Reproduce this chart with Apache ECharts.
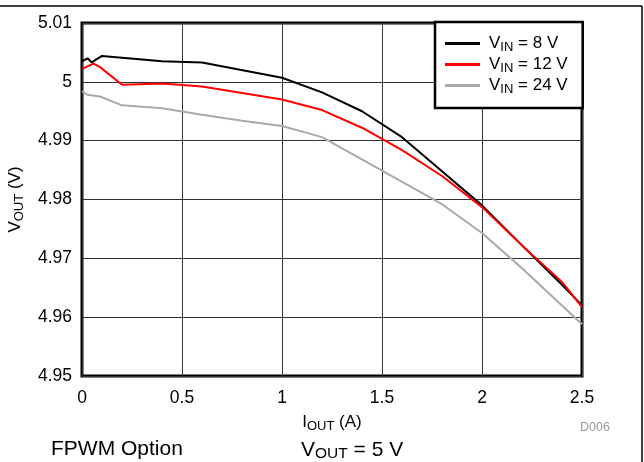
<!DOCTYPE html>
<html>
<head>
<meta charset="utf-8">
<script src="https://cdn.jsdelivr.net/npm/echarts@6/dist/echarts.min.js"></script>
<style>
html,body{margin:0;padding:0;background:#fff;}
#c{width:644px;height:462px;}
</style>
</head>
<body>
<div id="c"></div>
<script>
var xTicks = [0, 0.5, 1, 1.5, 2, 2.5];
var yTicks = [4.95, 4.96, 4.97, 4.98, 4.99, 5, 5.01];

var vin8X  = [0, 0.028, 0.048, 0.1, 0.4, 0.6, 1.0, 1.2, 1.4, 1.6, 1.8, 2.0, 2.2, 2.4, 2.5];
var vin8Y  = [5.0035, 5.0040, 5.0033, 5.0044, 5.0035, 5.0033, 5.0007, 4.9982, 4.9950, 4.9906, 4.9848, 4.9790, 4.9722, 4.9655, 4.9620];
var vin12X = [0, 0.057, 0.09, 0.2, 0.4, 0.6, 1.0, 1.2, 1.4, 1.6, 1.8, 2.0, 2.2, 2.4, 2.5];
var vin12Y = [5.0022, 5.0031, 5.0025, 4.9995, 4.9997, 4.9992, 4.9970, 4.9952, 4.9922, 4.9884, 4.9840, 4.9787, 4.9722, 4.9660, 4.9617];
var vin24X = [0, 0.027, 0.09, 0.2, 0.4, 0.6, 0.8, 1.0, 1.2, 1.8, 2.0, 2.2, 2.5];
var vin24Y = [4.9984, 4.9978, 4.9975, 4.9960, 4.9955, 4.9944, 4.9934, 4.9925, 4.9906, 4.9792, 4.9743, 4.9683, 4.9588];

function pairs(xs, ys){ return xs.map(function(x,i){ return [x, ys[i]]; }); }

var FONT = 'Liberation Sans, Arial, sans-serif';
var chart = echarts.init(document.getElementById('c'));

var legendRich = {
  m: {fontSize: 17, fontFamily: FONT, color: '#000', lineHeight: 20},
  s: {fontSize: 13, fontFamily: FONT, color: '#000', lineHeight: 20, padding: [8,0,0,0]}
};
var legendNames = {'8':'{m|V}{s|IN}{m| = 8 V}','12':'{m|V}{s|IN}{m| = 12 V}','24':'{m|V}{s|IN}{m| = 24 V}'};

chart.setOption({
  animation: false,
  backgroundColor: '#fff',
  grid: {left: 82, right: 62, top: 23, bottom: 86, containLabel: false, outerBoundsMode: 'none',
    show: true, borderColor: '#000', borderWidth: 3, backgroundColor: 'transparent'},
  xAxis: {
    type: 'value', min: 0, max: 2.5, interval: 0.5,
    axisLine: {show: false}, axisTick: {show: false},
    splitLine: {show: true, lineStyle: {color: '#333', width: 1}},
    axisLabel: {fontSize: 17.5, fontFamily: FONT, color: '#000', margin: 13,
      formatter: function(v){ return String(v); }},
    name: '{m|I}{s|OUT}{m| (A)}',
    nameLocation: 'middle', nameGap: 31,
    nameTextStyle: {rich: {
      m: {fontSize: 17, fontFamily: FONT, color: '#000', lineHeight: 20},
      s: {fontSize: 13, fontFamily: FONT, color: '#000', lineHeight: 20, padding: [8,0,0,0]}
    }}
  },
  yAxis: {
    type: 'value', min: 4.95, max: 5.01, interval: 0.01,
    axisLine: {show: false}, axisTick: {show: false},
    splitLine: {show: true, lineStyle: {color: '#333', width: 1}},
    axisLabel: {fontSize: 17.5, fontFamily: FONT, color: '#000', margin: 10,
      formatter: function(v){ return String(parseFloat(v.toFixed(2))); }},
    name: '{m|V}{s|OUT}{m| (V)}',
    nameLocation: 'middle', nameGap: 57, nameRotate: 90,
    nameTextStyle: {rich: {
      m: {fontSize: 17, fontFamily: FONT, color: '#000', lineHeight: 20},
      s: {fontSize: 13, fontFamily: FONT, color: '#000', lineHeight: 20, padding: [8,0,0,0]}
    }}
  },
  legend: {
    orient: 'vertical', left: 435, top: 22,
    backgroundColor: '#fff', borderColor: '#000', borderWidth: 2.5,
    padding: [11, 15, 12, 10], itemGap: 0,
    itemWidth: 35, itemHeight: 3, icon: 'rect',
    textStyle: {rich: legendRich, padding: [0,0,0,4]},
    formatter: function(n){ return legendNames[n]; },
    data: ['8','12','24']
  },
  series: [
    {name: '8', type: 'line', data: pairs(vin8X, vin8Y), symbol: 'none', lineStyle: {color: '#000', width: 2}, itemStyle: {color: '#000'}, z: 3},
    {name: '12', type: 'line', data: pairs(vin12X, vin12Y), symbol: 'none', lineStyle: {color: '#ff0000', width: 2}, itemStyle: {color: '#ff0000'}, z: 4},
    {name: '24', type: 'line', data: pairs(vin24X, vin24Y), symbol: 'none', lineStyle: {color: '#aaaaaa', width: 2}, itemStyle: {color: '#aaaaaa'}, z: 2}
  ],
  graphic: [
    {type: 'line', shape: {x1: 0, y1: 6, x2: 642, y2: 6}, style: {stroke: '#000', lineWidth: 1.5}},
    {type: 'line', shape: {x1: 642, y1: 6, x2: 642, y2: 462}, style: {stroke: '#000', lineWidth: 1.5}},
    {type: 'text', left: 580, top: 421, style: {text: 'D006', fontSize: 12.5, fontFamily: FONT, fill: '#999'}},
    {type: 'text', left: 51, top: 439, style: {text: 'FPWM Option', fontSize: 21, fontFamily: FONT, fill: '#000'}},
    {type: 'text', left: 301, top: 438, style: {
      text: '{m|V}{s|OUT}{m| = 5 V}',
      rich: {
        m: {fontSize: 21, fontFamily: FONT, fill: '#000', lineHeight: 22},
        s: {fontSize: 15.5, fontFamily: FONT, fill: '#000', lineHeight: 22, padding: [8,0,0,0]}
      }
    }}
  ]
});
</script>
</body>
</html>
